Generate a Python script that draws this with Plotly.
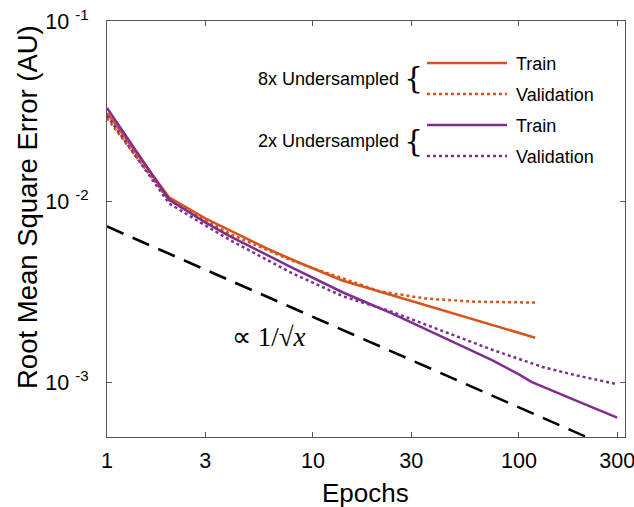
import plotly.graph_objects as go
import numpy as np

# ---- data ----
epochs_8x_train = [1, 2, 3, 4, 6, 9, 14, 24, 42, 74, 120]
train_8x = [0.031, 0.0106, 0.0081, 0.0069, 0.0055, 0.0045, 0.00366, 0.00305,
            0.00252, 0.00208, 0.00177]
epochs_8x_val = [1, 2, 3, 4, 8, 14, 21, 35, 61, 120]
val_8x = [0.029, 0.0102, 0.0079, 0.0066, 0.0047, 0.00375, 0.0032, 0.00292,
          0.0028, 0.00277]

epochs_2x_train = [1, 2, 3, 4, 8, 14, 24, 42, 74, 100, 115, 187, 300]
train_2x = [0.033, 0.0103, 0.0077, 0.0064, 0.0043, 0.00315, 0.00242, 0.0018,
            0.00133, 0.00111, 0.00101, 0.0008, 0.00064]
epochs_2x_val = [1, 2, 3, 4, 8, 14, 24, 42, 74, 130, 187, 300]
val_2x = [0.030, 0.0098, 0.0074, 0.0061, 0.0040, 0.0030, 0.00247, 0.00195,
          0.00152, 0.00122, 0.0011, 0.00098]

ref_x = [1, 300]
ref_coef = 0.0073  # y = ref_coef / sqrt(x)
ref_y = [ref_coef / np.sqrt(v) for v in ref_x]

x_ticks = [1, 3, 10, 30, 100, 300]
x_ticklabels = ["1", "3", "10", "30", "100", "300"]
y_ticks = [1e-3, 1e-2, 1e-1]
y_ticklabels = ["10 <sup>-3</sup>", "10 <sup>-2</sup>", "10 <sup>-1</sup>"]

ORANGE = "#D95319"
PURPLE = "#7E2F8E"
FONT = "Liberation Sans"

fig = go.Figure()
fig.add_trace(go.Scatter(x=ref_x, y=ref_y, mode="lines",
                         line=dict(color="black", width=2.5, dash="18px,10px")))
fig.add_trace(go.Scatter(x=epochs_8x_val, y=val_8x, mode="lines",
                         line=dict(color=ORANGE, width=2.5, dash="dot")))
fig.add_trace(go.Scatter(x=epochs_8x_train, y=train_8x, mode="lines",
                         line=dict(color=ORANGE, width=2.5)))
fig.add_trace(go.Scatter(x=epochs_2x_val, y=val_2x, mode="lines",
                         line=dict(color=PURPLE, width=2.5, dash="dot")))
fig.add_trace(go.Scatter(x=epochs_2x_train, y=train_2x, mode="lines",
                         line=dict(color=PURPLE, width=2.5)))

axis_common = dict(showline=True, mirror="ticks", linecolor="#555", linewidth=1.2,
                   ticks="inside", ticklen=5, tickcolor="#555", showgrid=False,
                   zeroline=False, automargin=False, ticklabeloverflow="allow",
                   tickfont=dict(family=FONT, size=21.5, color="black"))

fig.update_xaxes(type="log", range=[0, 2.515], tickvals=x_ticks, ticktext=x_ticklabels,
                 ticklabelstandoff=4, **axis_common)
fig.update_yaxes(type="log", range=[np.log10(5e-4), -1], tickvals=y_ticks,
                 ticktext=y_ticklabels, ticklabelstandoff=13, **axis_common)

# custom legend / titles (pixel -> paper conversion)
def px2paper(px, py):
    return (px - 107) / 518, (437 - py) / 416

legend_rows = [(63, ORANGE, "solid", "Train"), (94, ORANGE, "dot", "Validation"),
               (125, PURPLE, "solid", "Train"), (156, PURPLE, "dot", "Validation")]
shapes = []
annotations = []
for py, col, dash, label in legend_rows:
    x0, y0 = px2paper(427, py)
    x1, _ = px2paper(507, py)
    shapes.append(dict(type="line", xref="paper", yref="paper", x0=x0, x1=x1, y0=y0, y1=y0,
                       line=dict(color=col, width=2.5, dash=dash)))
    tx, ty = px2paper(514, py + 1)
    annotations.append(dict(xref="paper", yref="paper", x=tx, y=ty, text=label,
                            showarrow=False, xanchor="left", yanchor="middle",
                            font=dict(family=FONT, size=18, color="black")))

for py, label in [(79, "8x Undersampled"), (141, "2x Undersampled")]:
    tx, ty = px2paper(401, py)
    annotations.append(dict(xref="paper", yref="paper", x=tx, y=ty, text=label,
                            showarrow=False, xanchor="right", yanchor="middle",
                            font=dict(family=FONT, size=18, color="black")))
    bx, by = px2paper(402, py - 1)
    annotations.append(dict(xref="paper", yref="paper", x=bx, y=by, text="{",
                            showarrow=False, xanchor="left", yanchor="middle",
                            font=dict(family="DejaVu Serif", size=30, color="black")))

ax, ay = px2paper(269, 337)
annotations.append(dict(xref="paper", yref="paper", x=ax, y=ay,
                        text="∝ 1/√<i>x</i>", showarrow=False,
                        xanchor="center", yanchor="middle",
                        font=dict(family="Liberation Serif", size=27, color="black")))

# axis titles
ex, ey = px2paper(365, 493)
annotations.append(dict(xref="paper", yref="paper", x=ex, y=ey, text="Epochs",
                        showarrow=False, xanchor="center", yanchor="middle",
                        font=dict(family=FONT, size=26, color="black")))
yx, yy = px2paper(27, 207)
annotations.append(dict(xref="paper", yref="paper", x=yx, y=yy,
                        text="Root Mean Square Error (AU)", textangle=-90,
                        showarrow=False, xanchor="center", yanchor="middle",
                        font=dict(family=FONT, size=27.5, color="black")))

fig.update_layout(width=634, height=507, showlegend=False,
                  margin=dict(l=107, r=9, t=21, b=70, autoexpand=False),
                  paper_bgcolor="white", plot_bgcolor="white",
                  shapes=shapes, annotations=annotations)

fig.write_html("out.html", config={"displayModeBar": False},
               post_script="document.body.style.margin='0';document.body.style.padding='0';")
